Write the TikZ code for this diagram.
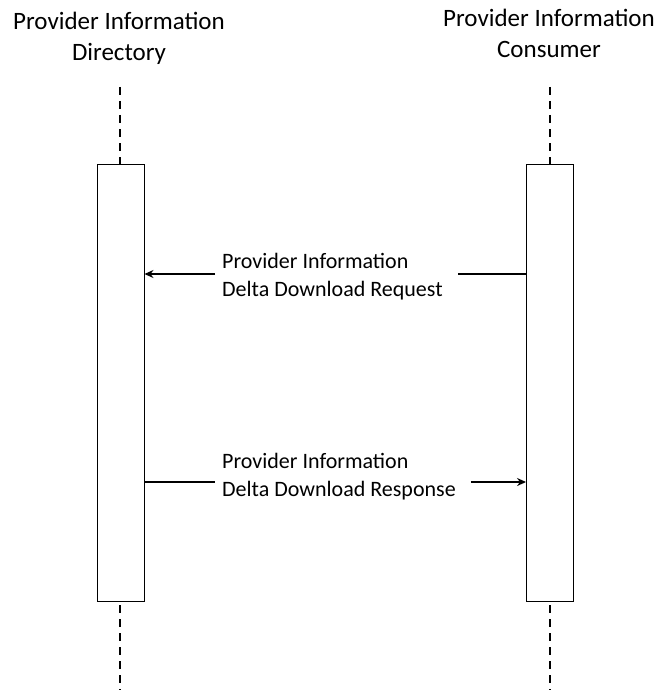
\documentclass[tikz,border=0pt]{standalone}
\usepackage{fontspec}
\setmainfont{Carlito}
\usetikzlibrary{arrows.meta}
\begin{document}
\begin{tikzpicture}[x=1pt,y=-1pt,
    lifeline/.style={dash pattern=on 8pt off 6pt,line width=1.8pt},
    actbox/.style={draw,fill=white,line width=0.9pt,minimum width=47pt,minimum height=437pt,inner sep=0pt},
    title/.style={font=\fontsize{25}{31}\selectfont,align=center},
    msg/.style={font=\fontsize{22}{28}\selectfont,align=left,anchor=west,inner xsep=7pt,inner ysep=0pt},
    msgline/.style={line width=1.4pt},
    msgarrow/.style={line width=1.4pt,-{Stealth[length=9pt,width=8pt]}}]
    \useasboundingbox (0,0) rectangle (654,690);
    % participants
    \node[title] (dirtitle) at (119,38) {Provider Information\\Directory};
    \node[title] (contitle) at (549,33) {Provider Information\\Consumer};
    \coordinate (dirtop) at (120,87);
    \coordinate (dirbot) at (120,690);
    \coordinate (contop) at (550,87);
    \coordinate (conbot) at (550,690);
    \draw[lifeline] (dirtop) -- (dirbot);
    \draw[lifeline] (contop) -- (conbot);
    \node[actbox] (dirbox) at (120.5,382.5) {};
    \node[actbox] (conbox) at (550,382.5) {};
    % request
    \node[msg] (reqmsg) at (215,277) {Provider Information\\Delta Download Request};
    \coordinate (reqy) at (0,274);
    \draw[msgline,shorten >=8pt] (conbox.west |- reqy) -- (reqmsg.east |- reqy);
    \draw[msgarrow] (reqmsg.west |- reqy) -- (dirbox.east |- reqy);
    % response
    \node[msg] (resmsg) at (215,477) {Provider Information\\Delta Download Response};
    \coordinate (resy) at (0,482);
    \draw[msgline] (dirbox.east |- resy) -- (resmsg.west |- resy);
    \draw[msgarrow,shorten <=8pt] (resmsg.east |- resy) -- (conbox.west |- resy);
\end{tikzpicture}
\end{document}
